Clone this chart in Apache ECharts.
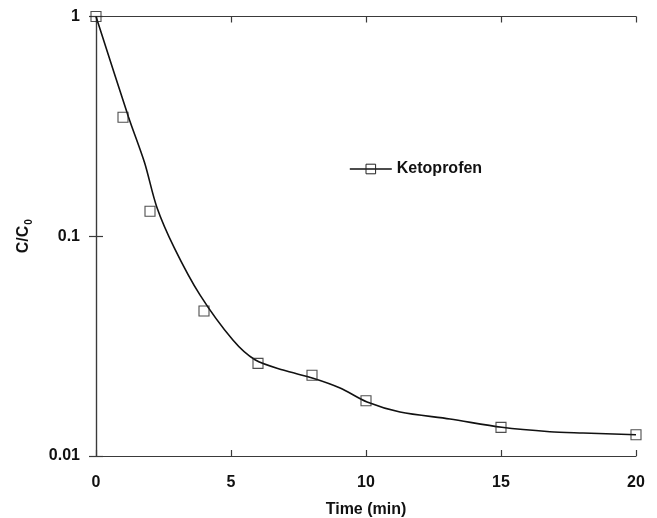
<!DOCTYPE html>
<html>
<head>
<meta charset="utf-8">
<script src="https://cdn.jsdelivr.net/npm/echarts@6/dist/echarts.min.js"></script>
<style>
  html, body { margin: 0; padding: 0; background: #fff; }
  #chart { width: 657px; height: 518px; }
</style>
</head>
<body>
<div id="chart"></div>
<script>
// Measured ketoprofen concentration ratio versus time
const sampleTimes = [0, 1, 2, 4, 6, 8, 10, 15, 20];
const sampleRatio = [1.0, 0.348, 0.130, 0.0457, 0.0264, 0.0233, 0.01785, 0.0135, 0.0125];

// Fitted decay curve
const curveTimes = [0, 1.2, 1.8, 2.25, 2.9, 3.85, 5.07, 5.89, 6.93, 8.04, 9.04, 10.04, 11.26, 13.11, 15.03, 16.81, 18.04, 20];
const curveRatio = [1.0, 0.350, 0.216, 0.136, 0.0886, 0.0541, 0.0337, 0.0274, 0.0246, 0.0226, 0.0204, 0.0176, 0.01586, 0.01473, 0.01351, 0.0129, 0.01273, 0.0125];

// Axis tick labels
const xTickLabels = ['0', '5', '10', '15', '20'];
const yTickValues = [0.01, 0.1, 1];
const yTickLabels = ['0.01', '0.1', '1'];

const seriesName = 'Ketoprofen';
const ink = '#111';
const frame = '#3a3a3a';
const font = 'Liberation Sans, Arial, Helvetica, sans-serif';

function yLabel(v) {
  let best = 0;
  for (let i = 0; i < yTickValues.length; i++) {
    if (Math.abs(Math.log10(v) - Math.log10(yTickValues[i])) <
        Math.abs(Math.log10(v) - Math.log10(yTickValues[best]))) best = i;
  }
  return yTickLabels[best];
}

const chart = echarts.init(document.getElementById('chart'), null, { renderer: 'canvas' });

const xBase = {
  type: 'value', min: 0, max: 20, interval: 5,
  splitLine: { show: false },
  axisLine: { show: true, lineStyle: { color: frame, width: 1.2 } },
  axisTick: { show: true, inside: true, length: 6, lineStyle: { color: frame, width: 1.2 } },
  minorTick: { show: false }
};
const yBase = {
  type: 'log', logBase: 10, min: 0.01, max: 1,
  splitLine: { show: false },
  axisLine: { show: true, lineStyle: { color: frame, width: 1.2 } },
  axisTick: { show: true, inside: true, length: 7, lineStyle: { color: frame, width: 1.2 } },
  minorTick: { show: false }
};

chart.setOption({
  animation: false,
  backgroundColor: '#fff',
  textStyle: { fontFamily: font },
  grid: { left: 96, right: 21, top: 16.5, bottom: 62, containLabel: false, outerBoundsMode: 'none' },
  legend: {
    data: [seriesName],
    left: 344, top: 156,
    itemWidth: 42, itemHeight: 12,
    textStyle: { fontFamily: font, fontSize: 16, fontWeight: 'bold', color: ink },
    itemStyle: { color: 'rgba(0,0,0,0)', borderColor: '#222', borderWidth: 1 },
    lineStyle: { color: ink, width: 1.6 }
  },
  xAxis: [
    Object.assign({}, xBase, {
      position: 'bottom',
      name: 'Time (min)', nameLocation: 'middle', nameGap: 46,
      nameTextStyle: { fontFamily: font, fontSize: 16, fontWeight: 'bold', color: ink },
      axisLabel: {
        margin: 19, fontFamily: font, fontSize: 16, fontWeight: 'bold', color: ink,
        formatter: v => xTickLabels[Math.round(v / 5)]
      }
    }),
    Object.assign({}, xBase, { position: 'top', axisLabel: { show: false } })
  ],
  yAxis: [
    Object.assign({}, yBase, {
      position: 'left',
      name: 'C/C{sub|0}', nameLocation: 'middle', nameGap: 62, nameRotate: 90,
      nameTextStyle: {
        fontFamily: font, fontSize: 16, fontWeight: 'bold', color: ink,
        rich: {
          sub: { fontFamily: font, fontSize: 10, fontWeight: 'bold', color: ink, padding: [10, 0, 0, 1], verticalAlign: 'bottom' }
        }
      },
      axisLabel: {
        margin: 16, fontFamily: font, fontSize: 16, fontWeight: 'bold', color: ink,
        formatter: v => yLabel(v)
      }
    }),
    Object.assign({}, yBase, { position: 'right', axisLabel: { show: false } })
  ],
  series: [
    {
      name: seriesName,
      type: 'line',
      xAxisIndex: 0, yAxisIndex: 0,
      data: curveTimes.map((t, i) => [t, curveRatio[i]]),
      smooth: 0.3,
      symbol: 'rect',
      showSymbol: false,
      lineStyle: { color: ink, width: 1.6 },
      itemStyle: { color: 'rgba(0,0,0,0)', borderColor: '#222' },
      z: 2
    },
    {
      name: 'measured',
      type: 'scatter',
      xAxisIndex: 0, yAxisIndex: 0,
      data: sampleTimes.map((t, i) => [t, sampleRatio[i]]),
      symbol: 'rect',
      symbolSize: 10,
      itemStyle: { color: 'rgba(0,0,0,0)', borderColor: '#222', borderWidth: 1.1 },
      z: 3
    }
  ]
});
</script>
</body>
</html>
